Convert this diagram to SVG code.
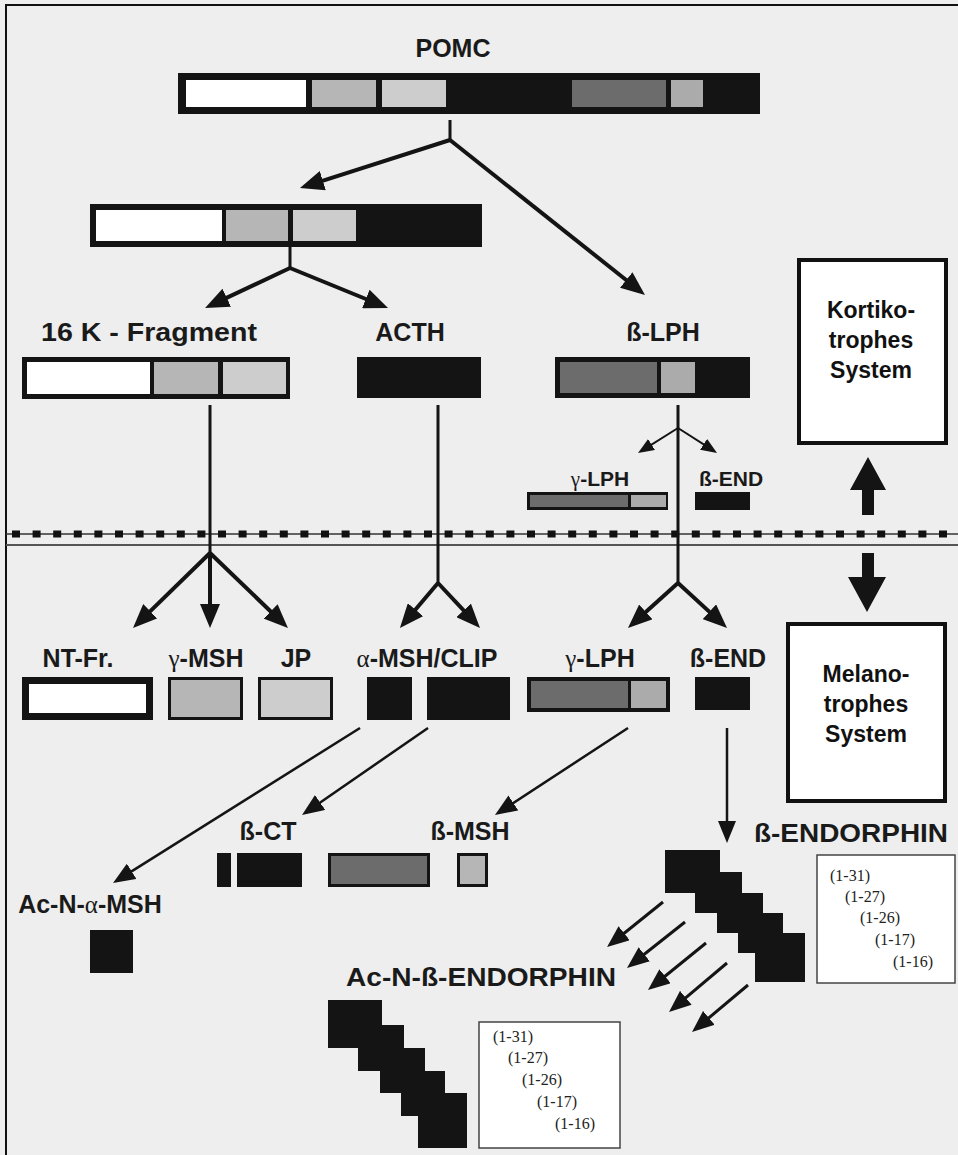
<svg xmlns="http://www.w3.org/2000/svg" width="958" height="1155" viewBox="0 0 958 1155">
<style>
.lbl{font-family:"Liberation Sans",Arial,sans-serif;font-weight:bold;font-size:25px;fill:#1a1a1a;text-anchor:middle}
.sml{font-family:"Liberation Sans",Arial,sans-serif;font-weight:bold;font-size:21px;fill:#1a1a1a;text-anchor:middle}
.sys{font-family:"Liberation Sans",Arial,sans-serif;font-weight:bold;font-size:23px;fill:#111;text-anchor:middle}
.num{font-family:"Liberation Serif","Times New Roman",serif;font-size:16px;fill:#222}
.gr{font-family:"Liberation Serif","Times New Roman",serif;font-weight:normal}
.blk{fill:#141414}
.wht{fill:#ffffff}
.g1{fill:#b6b6b6}
.g2{fill:#cdcdcd}
.gm{fill:#6c6c6c}
.gl{fill:#ababab}
.sysbox{fill:#ffffff;stroke:#111;stroke-width:4}
.numbox{fill:#ffffff;stroke:#444;stroke-width:1.5}
.thick{stroke:#141414;stroke-width:4;fill:none}
.stem{stroke:#141414;stroke-width:3;fill:none}
.thin{stroke:#141414;stroke-width:2;fill:none}
.diag{stroke:#141414;stroke-width:2.5;fill:none}
.diag3{stroke:#141414;stroke-width:3;fill:none}
</style>
<defs>
<marker id="ah" viewBox="0 0 24 20" refX="12" refY="10" markerWidth="24" markerHeight="20" markerUnits="userSpaceOnUse" orient="auto"><path d="M0,0 L24,10 L0,20 Z" fill="#141414"/></marker>
<marker id="am" viewBox="0 0 22 18" refX="10" refY="9" markerWidth="22" markerHeight="18" markerUnits="userSpaceOnUse" orient="auto"><path d="M0,0 L22,9 L0,18 Z" fill="#141414"/></marker>
<marker id="as" viewBox="0 0 16 13" refX="8" refY="6.5" markerWidth="16" markerHeight="13" markerUnits="userSpaceOnUse" orient="auto"><path d="M0,0 L16,6.5 L0,13 Z" fill="#141414"/></marker>
</defs>
<rect x="0" y="0" width="958" height="1155" fill="#eeeeee"/>
<path d="M6,1155 V5 H958" fill="none" stroke="#111" stroke-width="2"/>

<g id="separator">
<line x1="6" y1="534" x2="958" y2="534" stroke="#333" stroke-width="1.5"/>
<line x1="12" y1="534" x2="958" y2="534" stroke="#111" stroke-width="7" stroke-dasharray="8 12.6"/>
<line x1="6" y1="545" x2="958" y2="545" stroke="#555" stroke-width="2"/>
</g>

<g id="connectors">
<line class="stem" x1="450" y1="120" x2="450" y2="141"/>
<line class="thick" x1="450" y1="140" x2="311.4" y2="184.3" marker-end="url(#ah)"/>
<line class="thick" x1="450" y1="140" x2="635.6" y2="287.5" marker-end="url(#ah)"/>
<line class="stem" x1="290" y1="204" x2="290" y2="269"/>
<line class="thick" x1="290" y1="268" x2="215.9" y2="302.9" marker-end="url(#ah)"/>
<line class="thick" x1="290" y1="268" x2="376.9" y2="303.5" marker-end="url(#ah)"/>
<line class="stem" x1="210" y1="405" x2="210" y2="554"/>
<line class="thick" x1="210" y1="553" x2="141.6" y2="619.6" marker-end="url(#ah)"/>
<line class="thick" x1="210" y1="553" x2="210" y2="616" marker-end="url(#ah)"/>
<line class="thick" x1="210" y1="553" x2="279.3" y2="619.7" marker-end="url(#ah)"/>
<line class="stem" x1="438" y1="405" x2="438" y2="584"/>
<line class="thick" x1="438" y1="583" x2="407.7" y2="618.8" marker-end="url(#ah)"/>
<line class="thick" x1="438" y1="583" x2="471.8" y2="619.2" marker-end="url(#ah)"/>
<line class="stem" x1="678" y1="405" x2="678" y2="584"/>
<line class="thin" x1="678" y1="428" x2="644.8" y2="448.8" marker-end="url(#as)"/>
<line class="thin" x1="678" y1="428" x2="710.3" y2="448.7" marker-end="url(#as)"/>
<line class="thick" x1="678" y1="583" x2="636.9" y2="620" marker-end="url(#ah)"/>
<line class="thick" x1="678" y1="583" x2="718.2" y2="619.9" marker-end="url(#ah)"/>
<line class="diag" x1="360" y1="728" x2="123.2" y2="876.6" marker-end="url(#am)"/>
<line class="diag" x1="428" y1="728" x2="311.9" y2="808.2" marker-end="url(#am)"/>
<line class="diag" x1="628" y1="728" x2="505" y2="808.4" marker-end="url(#am)"/>
<line class="diag" x1="727" y1="728" x2="727" y2="831" marker-end="url(#am)"/>
<line class="diag3" x1="663" y1="902" x2="616.4" y2="939.5" marker-end="url(#am)"/>
<line class="diag3" x1="685" y1="922" x2="636.4" y2="960.5" marker-end="url(#am)"/>
<line class="diag3" x1="706" y1="943" x2="657.3" y2="982.5" marker-end="url(#am)"/>
<line class="diag3" x1="727" y1="963" x2="678.2" y2="1004.2" marker-end="url(#am)"/>
<line class="diag3" x1="748" y1="985" x2="701.2" y2="1024.3" marker-end="url(#am)"/>
<polygon points="868,457 886,490 874,490 874,515 862,515 862,490 850,490" class="blk"/>
<polygon points="862,553 874,553 874,577 886,577 867,612 848,577 862,577" class="blk"/>
</g>

<g id="pomc">
<text class="lbl" x="453" y="57">POMC</text>
<rect class="blk" x="178" y="73" width="582" height="41"/>
<rect class="wht" x="186" y="80" width="120" height="27"/>
<rect class="g1" x="312" y="80" width="64" height="27"/>
<rect class="g2" x="382" y="80" width="64" height="27"/>
<rect class="gm" x="572" y="80" width="94" height="27"/>
<rect class="gl" x="671" y="80" width="32" height="27"/>
</g>

<g id="intermediate">
<rect class="blk" x="90" y="204" width="392" height="43"/>
<rect class="wht" x="96" y="210" width="126" height="31"/>
<rect class="g1" x="226" y="210" width="62" height="31"/>
<rect class="g2" x="293" y="210" width="63" height="31"/>
</g>

<g id="frag16k">
<text class="lbl" x="149" y="341" style="font-size:26px" textLength="216" lengthAdjust="spacingAndGlyphs">16 K - Fragment</text>
<rect class="blk" x="22" y="357" width="268" height="42"/>
<rect class="wht" x="27" y="362" width="123" height="32"/>
<rect class="g1" x="154" y="362" width="64" height="32"/>
<rect class="g2" x="223" y="362" width="63" height="32"/>
</g>

<g id="acth">
<text class="lbl" x="410" y="341">ACTH</text>
<rect class="blk" x="357" y="357" width="124" height="41"/>
</g>

<g id="blph">
<text class="lbl" x="663" y="341">ß-LPH</text>
<rect class="blk" x="555" y="357" width="195" height="41"/>
<rect class="gm" x="560" y="362" width="97" height="31"/>
<rect class="gl" x="661" y="362" width="34" height="31"/>
</g>

<g id="glph-small">
<text class="sml" x="600" y="486"><tspan class="gr">γ</tspan>-LPH</text>
<rect class="blk" x="527" y="492" width="141" height="18"/>
<rect class="gm" x="530" y="495" width="98" height="12"/>
<rect class="gl" x="631" y="495" width="35" height="12"/>
</g>

<g id="bend-small">
<text class="sml" x="731" y="486">ß-END</text>
<rect class="blk" x="695" y="492" width="55" height="18"/>
</g>

<g id="kortiko">
<rect class="sysbox" x="799" y="260" width="147" height="183"/>
<text class="sys" x="871" y="318">Kortiko-</text>
<text class="sys" x="871" y="348">trophes</text>
<text class="sys" x="871" y="378">System</text>
</g>

<g id="melano">
<rect class="sysbox" x="788" y="624" width="157" height="177"/>
<text class="sys" x="866" y="682">Melano-</text>
<text class="sys" x="866" y="712">trophes</text>
<text class="sys" x="866" y="742">System</text>
</g>

<g id="ntfr">
<text class="lbl" x="78" y="667">NT-Fr.</text>
<rect class="blk" x="22" y="677" width="131" height="43"/>
<rect class="wht" x="29" y="684" width="117" height="29"/>
</g>

<g id="gmsh">
<text class="lbl" x="206" y="667"><tspan class="gr">γ</tspan>-MSH</text>
<rect class="blk" x="168" y="677" width="75" height="43"/>
<rect class="g1" x="171" y="680" width="69" height="37"/>
</g>

<g id="jp">
<text class="lbl" x="296" y="667">JP</text>
<rect class="blk" x="258" y="677" width="75" height="43"/>
<rect class="g2" x="261" y="680" width="69" height="37"/>
</g>

<g id="amsh-clip">
<text class="lbl" x="427" y="667"><tspan class="gr">α</tspan>-MSH/CLIP</text>
<rect class="blk" x="367" y="677" width="45" height="43"/>
<rect class="blk" x="427" y="677" width="83" height="43"/>
</g>

<g id="glph">
<text class="lbl" x="600" y="667"><tspan class="gr">γ</tspan>-LPH</text>
<rect class="blk" x="527" y="677" width="143" height="35"/>
<rect class="gm" x="531" y="681" width="97" height="27"/>
<rect class="gl" x="631" y="681" width="35" height="27"/>
</g>

<g id="bend">
<text class="lbl" x="728" y="667">ß-END</text>
<rect class="blk" x="695" y="677" width="55" height="33"/>
</g>

<g id="bct">
<text class="lbl" x="268" y="840">ß-CT</text>
<rect class="blk" x="217" y="853" width="14" height="34"/>
<rect class="blk" x="237" y="853" width="65" height="34"/>
</g>

<g id="midgray">
<rect class="blk" x="328" y="853" width="102" height="34"/>
<rect class="gm" x="331" y="856" width="96" height="28"/>
</g>

<g id="bmsh">
<text class="lbl" x="470" y="840">ß-MSH</text>
<rect class="blk" x="457" y="853" width="31" height="34"/>
<rect class="g1" x="460" y="856" width="25" height="28"/>
</g>

<g id="acnamsh">
<text class="lbl" x="90" y="913">Ac-N-<tspan class="gr">α</tspan>-MSH</text>
<rect class="blk" x="90" y="930" width="43" height="43"/>
</g>

<g id="bendorphin">
<text class="lbl" x="851" y="842" textLength="194" lengthAdjust="spacingAndGlyphs">ß-ENDORPHIN</text>
<polygon class="blk" points="665,850 720,850 720,872 742,872 742,893 763,893 763,913 783,913 783,933 805,933 805,982 755,982 755,953 738,953 738,933 717,933 717,913 695,913 695,893 665,893"/>
<rect class="numbox" x="817" y="855" width="138" height="128"/>
<text class="num" x="830" y="881">(1-31)</text>
<text class="num" x="845" y="902">(1-27)</text>
<text class="num" x="860" y="923">(1-26)</text>
<text class="num" x="875" y="945">(1-17)</text>
<text class="num" x="893" y="967">(1-16)</text>
</g>

<g id="acnbendorphin">
<text class="lbl" x="481" y="986" textLength="270" lengthAdjust="spacingAndGlyphs">Ac-N-ß-ENDORPHIN</text>
<polygon class="blk" points="328,1000 382,1000 382,1025 404,1025 404,1048 425,1048 425,1071 445,1071 445,1093 467,1093 467,1148 418,1148 418,1116 401,1116 401,1093 380,1093 380,1071 358,1071 358,1048 328,1048"/>
<rect class="numbox" x="479" y="1022" width="141" height="126"/>
<text class="num" x="493" y="1042">(1-31)</text>
<text class="num" x="508" y="1063">(1-27)</text>
<text class="num" x="522" y="1085">(1-26)</text>
<text class="num" x="537" y="1107">(1-17)</text>
<text class="num" x="555" y="1129">(1-16)</text>
</g>
</svg>
